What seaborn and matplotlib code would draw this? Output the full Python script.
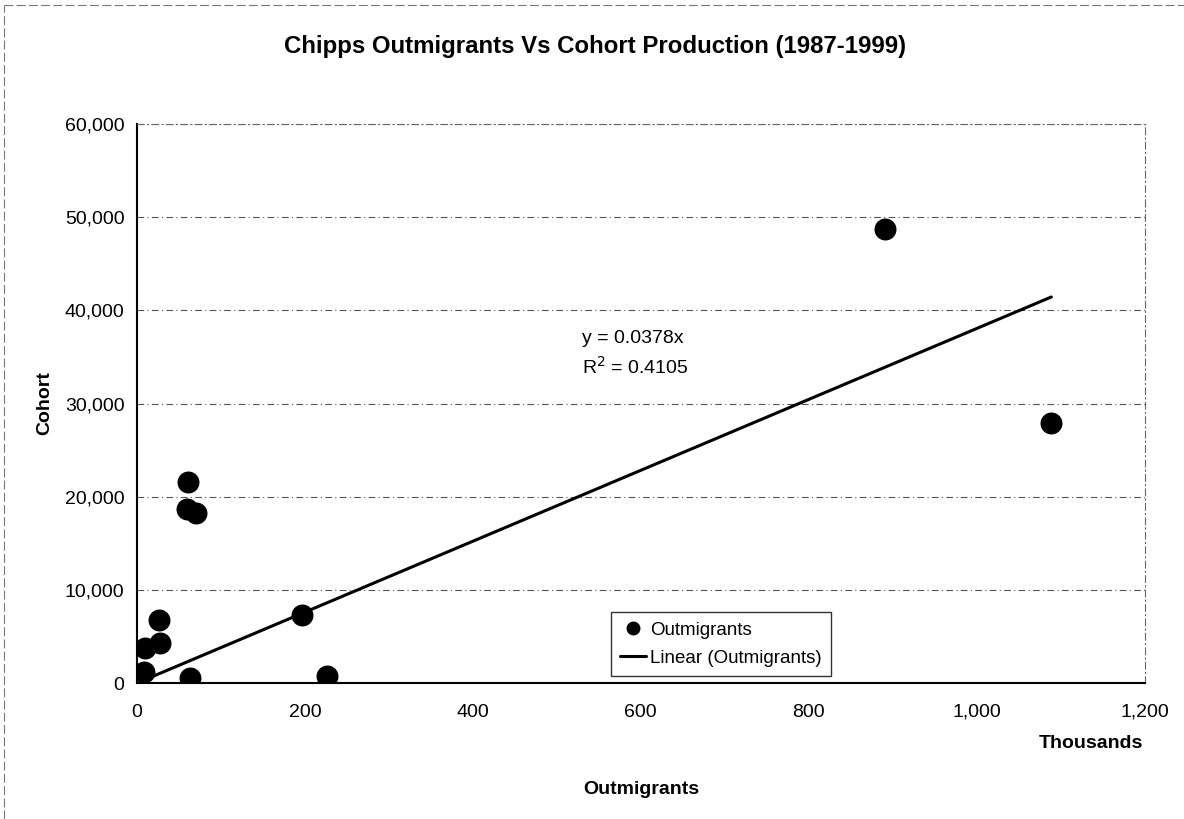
import numpy as np
import pandas as pd
import matplotlib
matplotlib.use("Agg")
import matplotlib.pyplot as plt
import seaborn as sns
from matplotlib.lines import Line2D

# Outmigrants (thousands) vs cohort production
outmigrants = [8.0, 9.2, 26.2, 27.9, 59.5, 60.7, 62.7, 69.9, 196.9, 226.7, 891.0, 1089.0]
cohort = [1210, 3720, 6760, 4260, 18640, 21600, 500, 18270, 7300, 780, 48710, 27870]
x_ticks = [0, 200, 400, 600, 800, 1000, 1200]
y_ticks = [0, 10000, 20000, 30000, 40000, 50000, 60000]
equation_text = "y = 0.0378x"
r2_text = "R$^2$ = 0.4105"

df = pd.DataFrame({"Outmigrants": outmigrants, "Cohort": cohort})

# linear trendline forced through the origin (Excel style)
slope = (df["Outmigrants"] * df["Cohort"]).sum() / (df["Outmigrants"] ** 2).sum()
trend = pd.DataFrame({"x": [df["Outmigrants"].min(), df["Outmigrants"].max()]})
trend["y"] = slope * trend["x"]

sns.set_theme(style="white")
plt.rcParams["font.family"] = ["Liberation Sans", "DejaVu Sans"]
plt.rcParams["text.color"] = "black"
plt.rcParams["axes.labelcolor"] = "black"

fig = plt.figure(figsize=(11.84, 8.19), dpi=100)
ax = fig.add_axes([0.1157, 0.166, 0.851, 0.6826])

ax.yaxis.grid(True, color="#555555", linestyle=(0, (6, 3, 1, 3)), linewidth=0.8)
ax.set_axisbelow(True)

sns.lineplot(data=trend, x="x", y="y", color="black", linewidth=2.2, ax=ax, legend=False)
sns.scatterplot(data=df, x="Outmigrants", y="Cohort", color="black", s=250,
                edgecolor="black", linewidth=0, ax=ax, legend=False, zorder=3)

ax.set_xlim(0, 1200)
ax.set_ylim(0, 60000)
ax.set_xticks(x_ticks)
ax.set_yticks(y_ticks)
ax.set_xticklabels([f"{v:,}" for v in x_ticks])
ax.set_yticklabels([f"{v:,}" for v in y_ticks])
ax.tick_params(axis="both", labelsize=14, colors="black", direction="out", length=5, width=1)
ax.tick_params(axis="x", pad=10)
ax.tick_params(axis="y", pad=4)

for side in ["left", "bottom"]:
    ax.spines[side].set_color("black")
    ax.spines[side].set_linewidth(1.5)
for side in ["top", "right"]:
    ax.spines[side].set_color("#666666")
    ax.spines[side].set_linewidth(0.8)
    ax.spines[side].set_linestyle((0, (6, 3, 1, 3)))

ax.set_xlabel("")
ax.set_ylabel("Cohort", fontsize=14, fontweight="bold", labelpad=8, color="black")
fig.text(0.5415, 1 - 790 / 819, "Outmigrants", ha="center", va="center",
         fontsize=14, fontweight="bold", color="black")
fig.text(1143 / 1184, 1 - 743 / 819, "Thousands", ha="right", va="center",
         fontsize=14, fontweight="bold", color="black")
fig.text(0.503, 1 - 47 / 819, "Chipps Outmigrants Vs Cohort Production (1987-1999)",
         ha="center", va="center", fontsize=17.3, fontweight="bold", color="black")

ax.text(530, 37000, equation_text, fontsize=14, va="center", ha="left", color="black")
ax.text(530, 33900, r2_text, fontsize=14, va="center", ha="left", color="black")

handles = [
    Line2D([], [], marker="o", color="black", linestyle="none", markersize=9),
    Line2D([], [], color="black", linewidth=2.2),
]
leg = ax.legend(handles, ["Outmigrants", "Linear (Outmigrants)"], loc="lower left",
                bbox_to_anchor=(0.47, 0.012), borderaxespad=0, fontsize=13.5,
                frameon=True, fancybox=False, handlelength=1.4, handletextpad=0.2,
                borderpad=0.5, labelspacing=0.6)
leg.get_frame().set_edgecolor("black")
leg.get_frame().set_linewidth(1.0)
for t in leg.get_texts():
    t.set_color("black")

# chart area border (scan shows top and left edges)
fig.add_artist(Line2D([0.003, 0.003], [0, 0.994], transform=fig.transFigure,
                      color="#777777", linewidth=0.8, linestyle=(0, (8, 3))))
fig.add_artist(Line2D([0.003, 1.0], [0.994, 0.994], transform=fig.transFigure,
                      color="#777777", linewidth=0.8, linestyle=(0, (8, 3))))

fig.savefig("out.png", dpi=100)
